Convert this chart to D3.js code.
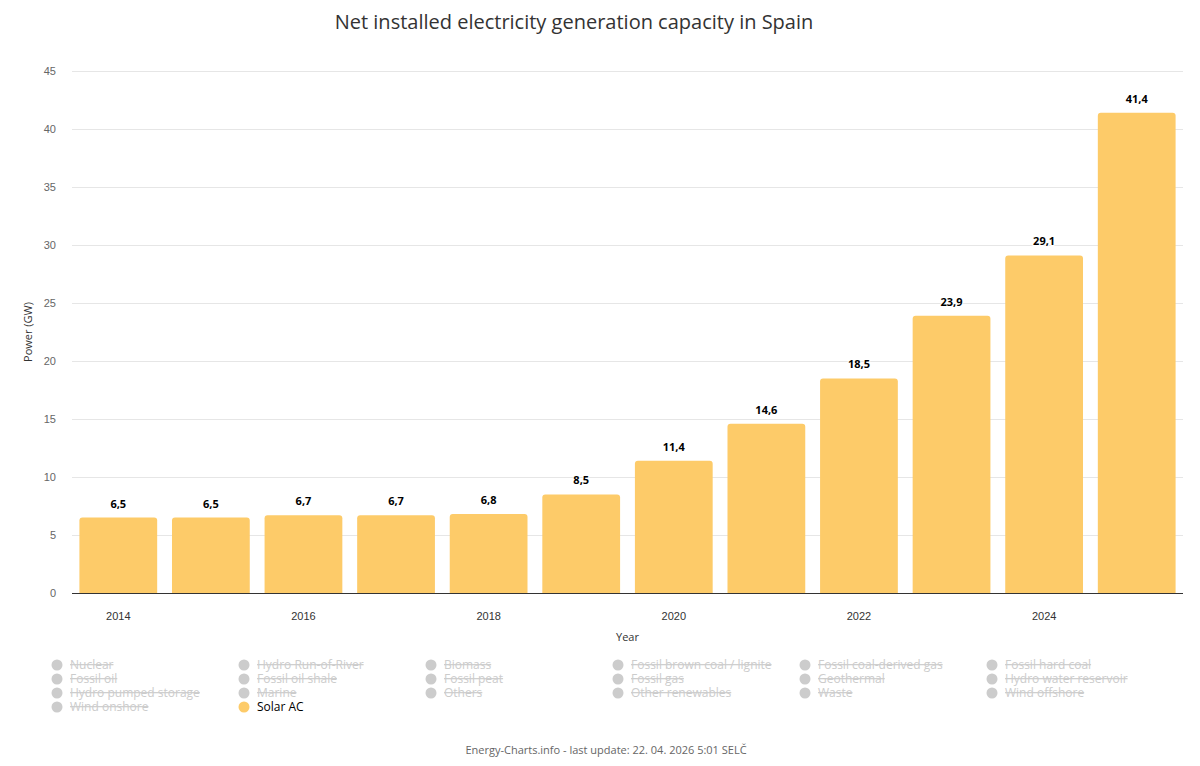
<!DOCTYPE html>
<html>
<head>
<meta charset="utf-8">
<script src="https://cdn.jsdelivr.net/npm/d3@7"></script>
<style>
  body { margin: 0; background: #fff; }
  svg { font-family: "Open Sans", "Noto Sans", sans-serif; }
</style>
</head>
<body>
<svg id="chart" width="1200" height="766"></svg>
<script>
var years = [2014, 2015, 2016, 2017, 2018, 2019, 2020, 2021, 2022, 2023, 2024, 2025];
var solar = [6.5, 6.5, 6.7, 6.7, 6.8, 8.5, 11.4, 14.6, 18.5, 23.9, 29.1, 41.4];
var yTicks = [0, 5, 10, 15, 20, 25, 30, 35, 40, 45];
var xLabels = [2014, 2016, 2018, 2020, 2022, 2024];

var legendNames = [
  "Nuclear", "Hydro Run-of-River", "Biomass", "Fossil brown coal / lignite", "Fossil coal-derived gas", "Fossil hard coal",
  "Fossil oil", "Fossil oil shale", "Fossil peat", "Fossil gas", "Geothermal", "Hydro water reservoir",
  "Hydro pumped storage", "Marine", "Others", "Other renewables", "Waste", "Wind offshore",
  "Wind onshore", "Solar AC"
];
var activeSeries = "Solar AC";

var svg = d3.select("#chart");
var width = 1200, height = 766;
var margin = {left: 72, right: 17, top: 71, bottom: 173};

var x = d3.scaleBand()
  .domain(years)
  .range([margin.left, width - margin.right])
  .paddingInner(0.16)
  .paddingOuter(0.08);

var y = d3.scaleLinear()
  .domain([0, 45])
  .range([height - margin.bottom, margin.top]);

// title
svg.append("text")
  .attr("x", 574)
  .attr("y", 29)
  .attr("text-anchor", "middle")
  .style("font-size", "20px")
  .style("fill", "#333")
  .text("Net installed electricity generation capacity in Spain");

// grid
svg.append("g")
  .selectAll("line")
  .data(yTicks.slice(1))
  .enter().append("line")
  .attr("x1", margin.left)
  .attr("x2", width - margin.right)
  .attr("y1", function(d) { return y(d) + 0.5; })
  .attr("y2", function(d) { return y(d) + 0.5; })
  .style("stroke", "#e6e6e6");

// y axis labels
var yAxis = d3.axisLeft(y).tickValues(yTicks).tickSize(0).tickPadding(16);
svg.append("g")
  .attr("transform", "translate(" + margin.left + ",0)")
  .call(yAxis)
  .call(function(g) {
    g.select(".domain").remove();
    g.selectAll("text").style("font-size", "11px").style("fill", "#666").style("font-family", "inherit");
  });

svg.append("text")
  .attr("transform", "translate(32," + ((y(0) + y(45)) / 2) + ") rotate(-90)")
  .attr("text-anchor", "middle")
  .style("font-size", "11px")
  .style("fill", "#333")
  .text("Power (GW)");

// bars
svg.append("g")
  .selectAll("path")
  .data(years)
  .enter().append("path")
  .attr("d", function(d, i) {
    var x0 = x(d), w = x.bandwidth(), y0 = y(solar[i]), y1 = y(0), r = 3;
    return "M" + x0 + "," + y1 +
      "V" + (y0 + r) +
      "Q" + x0 + "," + y0 + " " + (x0 + r) + "," + y0 +
      "H" + (x0 + w - r) +
      "Q" + (x0 + w) + "," + y0 + " " + (x0 + w) + "," + (y0 + r) +
      "V" + y1 + "Z";
  })
  .style("fill", "#fdcb69");

// data labels
svg.append("g")
  .selectAll("text")
  .data(years)
  .enter().append("text")
  .attr("x", function(d) { return x(d) + x.bandwidth() / 2; })
  .attr("y", function(d, i) { return y(solar[i]) - 10; })
  .attr("text-anchor", "middle")
  .style("font-size", "11px")
  .style("font-weight", "bold")
  .style("fill", "#000")
  .style("stroke", "#fff")
  .style("stroke-width", 2)
  .style("paint-order", "stroke")
  .text(function(d, i) { return String(solar[i]).replace(".", ","); });

// x axis
var xAxis = d3.axisBottom(x).tickValues(xLabels).tickSize(0).tickPadding(19);
svg.append("g")
  .attr("transform", "translate(0," + y(0) + ")")
  .call(xAxis)
  .call(function(g) {
    g.select(".domain").style("stroke", "#333").attr("d", "M" + margin.left + ",0.5H" + (width - margin.right));
    g.selectAll("text").style("font-size", "11px").style("fill", "#333").style("font-family", "inherit");
  });

svg.append("text")
  .attr("x", (margin.left + width - margin.right) / 2)
  .attr("y", 641)
  .attr("text-anchor", "middle")
  .style("font-size", "11px")
  .style("fill", "#333")
  .text("Year");

// legend
var legend = svg.append("g").selectAll("g")
  .data(legendNames)
  .enter().append("g")
  .attr("transform", function(d, i) {
    return "translate(" + (57 + (i % 6) * 187) + "," + (665 + Math.floor(i / 6) * 14) + ")";
  });

legend.append("circle")
  .attr("r", 5.5)
  .style("fill", function(d) { return d === activeSeries ? "#fdcb69" : "#cccccc"; });

legend.append("text")
  .attr("x", 13)
  .attr("y", 4)
  .style("font-size", "12px")
  .style("fill", function(d) { return d === activeSeries ? "#000" : "#cccccc"; })
  .style("text-decoration", function(d) { return d === activeSeries ? "none" : "line-through"; })
  .text(function(d) { return d.replace(/ /g, d === activeSeries ? " " : "\u00a0"); });

// footer
svg.append("text")
  .attr("x", 606)
  .attr("y", 754)
  .attr("text-anchor", "middle")
  .style("font-size", "11px")
  .style("fill", "#666")
  .text("Energy-Charts.info - last update: 22. 04. 2026 5:01 SELČ");
</script>
</body>
</html>
